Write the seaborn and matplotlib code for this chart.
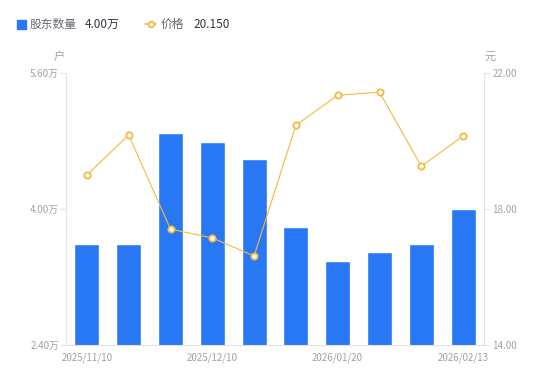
import numpy as np
import pandas as pd
import matplotlib
matplotlib.use('Agg')
import matplotlib.pyplot as plt
import seaborn as sns

dates = ['2025/11/10', '2025/11/20', '2025/11/28', '2025/12/10', '2025/12/19',
         '2025/12/31', '2026/01/20', '2026/01/30', '2026/02/10', '2026/02/13']
holders = [3.59, 3.59, 4.89, 4.79, 4.59, 3.79, 3.39, 3.49, 3.59, 4.00]  # 万户
price = [19.00, 20.18, 17.41, 17.15, 16.62, 20.47, 21.35, 21.44, 19.26, 20.15]
shown_dates = ['2025/11/10', '2025/12/10', '2026/01/20', '2026/02/13']

sns.set_style('white')
plt.rcParams['font.family'] = ['Noto Sans CJK SC', 'DejaVu Sans']

bar_color = '#2878f5'
line_color = '#f6b93b'
grey = '#a0a0ab'
axis_col = '#e3e3e8'

df = pd.DataFrame({'date': dates, 'holders': holders, 'price': price})
df['pos'] = np.arange(len(df))

fig = plt.figure(figsize=(5.5, 3.81), dpi=100)
ax = fig.add_axes([0.12, 0.0945, 0.76, 0.7135])

sns.barplot(data=df, x='date', y='holders', color=bar_color, width=0.6,
            saturation=1, ax=ax)
ax.set_ylim(2.40, 5.60)
ax.set_yticks([2.40, 4.00, 5.60])
ax.set_yticklabels(['2.40万', '4.00万', '5.60万'])
ax.set_xlim(-0.5, len(dates) - 0.5)
ax.set_xticks([dates.index(d) for d in shown_dates])
ax.set_xticklabels(shown_dates)
ax.set_xlabel('')
ax.set_ylabel('')

ax2 = ax.twinx()
sns.lineplot(data=df, x='pos', y='price', color=line_color, linewidth=0.8,
             marker='o', markersize=4.5, markerfacecolor='white',
             markeredgecolor=line_color, markeredgewidth=1.3, ax=ax2)
ax2.set_ylim(14, 22)
ax2.set_yticks([14, 18, 22])
ax2.set_yticklabels(['14.00', '18.00', '22.00'])
ax2.set_xlim(-0.5, len(dates) - 0.5)
ax2.set_xlabel('')
ax2.set_ylabel('')

for a in (ax, ax2):
    for s in a.spines.values():
        s.set_visible(False)
    a.grid(False)
ax.spines['left'].set_visible(True)
ax.spines['bottom'].set_visible(True)
ax2.spines['right'].set_visible(True)
for s in (ax.spines['left'], ax.spines['bottom'], ax2.spines['right']):
    s.set_color(axis_col)
    s.set_linewidth(0.8)

ax.tick_params(axis='y', left=True, length=4, width=0.8, color=axis_col,
               labelsize=7, labelcolor=grey, pad=1)
ax.tick_params(axis='x', bottom=False, labelsize=7, labelcolor=grey, pad=2)
ax2.tick_params(axis='y', right=True, length=4, width=0.8, color=axis_col,
                labelsize=7, labelcolor=grey, pad=2)

fig.text(59 / 550, 1 - 57 / 381, '户', fontsize=8, color=grey, ha='center', va='center')
fig.text(490 / 550, 1 - 57 / 381, '元', fontsize=8, color=grey, ha='center', va='center')

# legend
ly = 1 - 24 / 381
fig.patches.append(plt.Rectangle((17 / 550, 1 - 29 / 381), 9 / 550, 9 / 381,
                                 transform=fig.transFigure, color=bar_color, figure=fig))
fig.text(30 / 550, ly, '股东数量', fontsize=8.5, color='#666670', va='center')
fig.text(85 / 550, ly, '4.00万', fontsize=8.5, color='#333340', va='center')
fig.lines.append(plt.Line2D([145 / 550, 156 / 550], [ly, ly], transform=fig.transFigure,
                            color=line_color, linewidth=1.2, figure=fig))
fig.lines.append(plt.Line2D([150.5 / 550], [ly], transform=fig.transFigure,
                            color=line_color, marker='o', markersize=4, linestyle='none',
                            markerfacecolor='white', markeredgewidth=1.3, figure=fig))
fig.text(161 / 550, ly, '价格', fontsize=8.5, color='#666670', va='center')
fig.text(193 / 550, ly, '20.150', fontsize=8.5, color='#333340', va='center')

fig.savefig('out.png', dpi=100)
